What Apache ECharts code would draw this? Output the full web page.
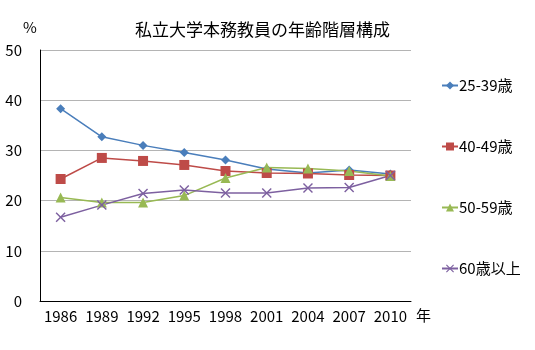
<!DOCTYPE html>
<html><head><meta charset="utf-8">
<script src="https://cdn.jsdelivr.net/npm/echarts@6/dist/echarts.min.js"></script>
<style>html,body{margin:0;padding:0;background:#fff;}#c{width:535px;height:350px;}</style>
</head><body><div id="c"></div>
<script>
var years = ['1986','1989','1992','1995','1998','2001','2004','2007','2010'];
var yTicks = [0,10,20,30,40,50];
var s1Name = '25-39歳';
var s1 = [38.3,32.7,31.0,29.6,28.1,26.3,25.5,26.1,25.3];
var s2Name = '40-49歳';
var s2 = [24.3,28.5,27.9,27.1,25.9,25.5,25.4,25.1,25.0];
var s3Name = '50-59歳';
var s3 = [20.6,19.6,19.6,21.0,24.5,26.6,26.4,25.9,24.9];
var s4Name = '60歳以上';
var s4 = [16.7,19.1,21.4,22.1,21.5,21.5,22.5,22.6,25.0];

var font = 'Noto Sans CJK JP';
var xMark = 'path://M0,1L1,0L5,4L9,0L10,1L6,5L10,9L9,10L5,6L1,10L0,9L4,5Z';
function ser(name, data, color, symbol, size){
  return {name:name, type:'line', data:data, symbol:symbol, symbolSize:size,
    lineStyle:{color:color, width:1.5}, itemStyle:{color:color},
    emphasis:{disabled:true}, animation:false};
}
var chart = echarts.init(document.getElementById('c'));
chart.setOption({
  animation:false,
  title:{text:'私立大学本務教員の年齢階層構成', left:130, top:16,
    textStyle:{fontFamily:font, fontSize:17, fontWeight:'normal', color:'#000'}},
  grid:{left:40, right:124, top:50, bottom:49},
  legend:{orient:'vertical', left:436, top:73, itemWidth:16, itemHeight:10, itemGap:46,
    textStyle:{fontFamily:font, fontSize:15, color:'#000', padding:[0,0,0,-4]},
    data:[s1Name,s2Name,s3Name,s4Name]},
  xAxis:{type:'category', data:years, boundaryGap:true,
    axisLine:{lineStyle:{color:'#000', width:1}},
    axisTick:{inside:true, length:5, lineStyle:{color:'#000'}},
    axisLabel:{interval:0, fontFamily:font, fontSize:15, color:'#000', margin:8}},
  yAxis:{type:'value', min:0, max:50, interval:10,
    axisLine:{show:true, lineStyle:{color:'#000', width:1}},
    axisTick:{show:false},
    axisLabel:{fontFamily:font, fontSize:15, color:'#000', margin:18},
    splitLine:{lineStyle:{color:'#b4b4b4', width:1}}},
  graphic:[
    {type:'text', left:23, top:20, style:{text:'%', font:'15px "Noto Sans CJK JP"', fill:'#000'}},
    {type:'text', left:416, top:308, style:{text:'年', font:'15px "Noto Sans CJK JP"', fill:'#000'}}
  ],
  series:[
    ser(s1Name, s1, '#4A7EBB', 'diamond', 9),
    ser(s2Name, s2, '#BE4B48', 'rect', 10),
    ser(s3Name, s3, '#98B954', 'triangle', 10),
    ser(s4Name, s4, '#7D60A0', xMark, 10)
  ]
});
</script></body></html>
